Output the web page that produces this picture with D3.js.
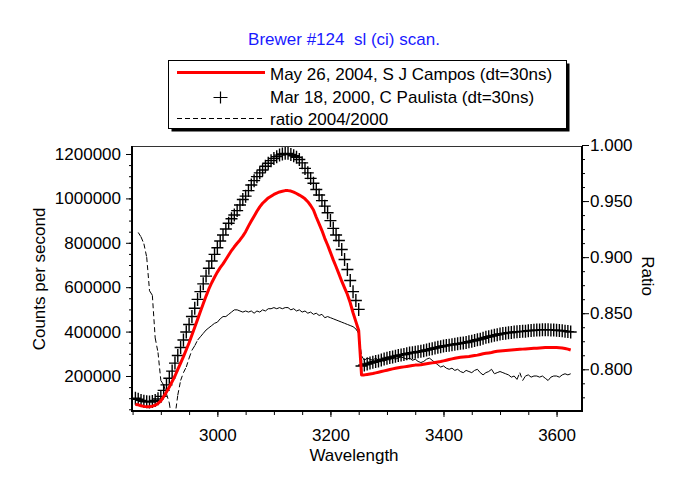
<!DOCTYPE html>
<html><head><meta charset="utf-8">
<script src="https://cdn.jsdelivr.net/npm/d3@7"></script>
<style>
body{margin:0;background:#fff}
svg{display:block}
text{font-family:"Liberation Sans",Arial,sans-serif;fill:#000}
</style>
</head><body>
<svg id="chart" width="676" height="480"></svg>
<script>
// ---- DATA ----
const wavelengths = d3.range(2855, 3626, 5);   // scan grid, 155 steps
// May 26, 2004, S J Campos — thousand counts per second
const counts2004k = [
  72, 70, 66, 63, 62, 62, 64, 68, 76, 88,
  107, 128, 150, 175, 200, 230, 258, 287, 318, 350,
  385, 420, 455, 490, 525, 560, 592, 620, 645, 668,
  688, 705, 725, 745, 765, 782, 798, 813, 830, 850,
  875, 898, 920, 942, 962, 978, 990, 1002, 1010, 1018,
  1024, 1029, 1032, 1035, 1035, 1033, 1028, 1022, 1015, 1007,
  998, 985, 968, 948, 915, 885, 855, 820, 790, 757,
  723, 692, 660, 627, 597, 567, 530, 485, 445, 405,
  205, 205, 207, 209, 211, 214, 217, 220, 223, 226,
  229, 232, 235, 237, 239, 241, 243, 245, 247, 249,
  250, 251, 253, 255, 257, 259, 261, 263, 265, 268,
  271, 274, 277, 280, 282, 284, 286, 287, 288, 290,
  292, 294, 297, 300, 302, 304, 306, 309, 311, 313,
  314, 315, 316, 317, 318, 319, 320, 321, 322, 323,
  324, 325, 325, 326, 327, 328, 328, 328, 328, 328,
  327, 326, 324, 321, 317
];
// Mar 18, 2000, C Paulista — thousand counts per second
const counts2000k = [
  100, 95, 90, 86, 84, 83, 85, 90, 97, 108,
  135, 160, 190, 222, 258, 292, 328, 362, 398, 432,
  468, 505, 545, 580, 615, 650, 685, 718, 748, 778,
  808, 835, 862, 888, 908, 925, 945, 970, 995, 1010,
  1035, 1060, 1080, 1098, 1115, 1128, 1145, 1158, 1170, 1180,
  1188, 1195, 1200, 1203, 1203, 1198, 1192, 1185, 1175, 1160,
  1135, 1115, 1090, 1068, 1040, 1015, 990, 965, 935, 900,
  865, 835, 810, 770, 725, 680, 630, 580, 540, 500,
  245, 250, 254, 258, 262, 265, 268, 272, 276, 280,
  283, 286, 289, 292, 295, 297, 300, 303, 305, 307,
  309, 311, 314, 317, 320, 323, 326, 329, 332, 335,
  337, 339, 341, 343, 345, 347, 349, 351, 354, 357,
  360, 363, 366, 370, 374, 377, 380, 383, 386, 389,
  391, 393, 395, 396, 398, 399, 400, 401, 402, 404,
  405, 406, 407, 407, 408, 408, 408, 407, 407, 406,
  405, 404, 402, 400, 398
];
// ratio 2004/2000 (right axis)
const ratio = [
  null, 0.922, 0.918, 0.912, 0.900, 0.870, 0.866, 0.828, 0.815, 0.790,
  0.786, 0.778, 0.770, 0.752, 0.758, 0.777, 0.790, 0.797, 0.802, 0.810,
  0.817, 0.821, 0.826, 0.829, 0.832, 0.835, 0.837, 0.839, 0.841, 0.842,
  0.845, 0.847, 0.847, 0.849, 0.851, 0.853, 0.853, 0.852, 0.851, 0.852,
  0.851, 0.852, 0.850, 0.852, 0.851, 0.853, 0.852, 0.854, 0.854, 0.855,
  0.854, 0.855, 0.854, 0.855, 0.855, 0.853, 0.854, 0.852, 0.853, 0.851,
  0.852, 0.850, 0.851, 0.849, 0.850, 0.848, 0.849, 0.846, 0.847, 0.846,
  0.845, 0.844, 0.843, 0.842, 0.841, 0.840, 0.839, 0.838, 0.836, 0.832,
  0.812, 0.808, 0.810, 0.809, 0.808, 0.810, 0.808, 0.809, 0.807, 0.809,
  0.808, 0.810, 0.809, 0.810, 0.811, 0.810, 0.809, 0.810, 0.808, 0.809,
  0.807, 0.806, 0.807, 0.809, 0.810, 0.808, 0.806, 0.804, 0.802, 0.803,
  0.801, 0.800, 0.801, 0.799, 0.800, 0.798, 0.797, 0.799, 0.798, 0.797,
  0.799, 0.800, 0.797, 0.795, 0.797, 0.798, 0.800, 0.796, 0.797, 0.798,
  0.797, 0.796, 0.795, 0.793, 0.794, 0.791, 0.797, 0.790, 0.794, 0.795,
  0.793, 0.794, 0.794, 0.793, 0.794, 0.792, 0.790, 0.793, 0.794, 0.794,
  0.793, 0.795, 0.796, 0.795, 0.796
];
const xTicks = [3000, 3200, 3400, 3600];
const xMinorTicks = d3.range(2850, 3601, 50);
const leftTicks = [200000, 400000, 600000, 800000, 1000000, 1200000];
const leftMinorTicks = d3.range(50000, 1200001, 50000);
const rightTicks = [0.800, 0.850, 0.900, 0.950, 1.000];
const rightMinorTicks = d3.range(0, 19).map(i => 0.775 + i * 0.0125);
const titleText = "Brewer #124  sl (ci) scan.";
const legendLabels = ["May 26, 2004, S J Campos (dt=30ns)", "Mar 18, 2000, C Paulista (dt=30ns)", "ratio 2004/2000"];
const xTitle = "Wavelength", yLeftTitle = "Counts per second", yRightTitle = "Ratio";

// ---- CHART ----
const svg = d3.select("#chart");
const P = {l: 132, r: 582, t: 146, b: 411};
const FS = "17px";
const x = d3.scaleLinear().domain([2849, 3645]).range([P.l, P.r]);
const yL = d3.scaleLinear().domain([42300, 1236000]).range([P.b, P.t]);
const yR = d3.scaleLinear().domain([0.7628, 1.0]).range([P.b, 145]);

const rows = wavelengths.map((w, i) => ({w, a: counts2004k[i] * 1000, b: counts2000k[i] * 1000, r: ratio[i]}));

svg.append("clipPath").attr("id", "clip").append("rect")
  .attr("x", P.l).attr("y", P.t).attr("width", P.r - P.l).attr("height", P.b - P.t);

const plot = svg.append("g").attr("clip-path", "url(#clip)");

// ratio: dashed, pattern restarting on each segment
const rr = rows.filter(d => d.r != null);
plot.append("g").selectAll("line").data(d3.pairs(rr)).join("line")
  .attr("x1", d => x(d[0].w)).attr("y1", d => yR(d[0].r))
  .attr("x2", d => x(d[1].w)).attr("y2", d => yR(d[1].r))
  .attr("stroke", "#000").attr("stroke-width", 1).attr("stroke-dasharray", "5,3");

// crosses (2000)
plot.append("path")
  .attr("d", rows.map(d => {
    const cx = x(d.w), cy = yL(d.b);
    return `M${cx - 6},${cy}H${cx + 6}M${cx},${cy - 6.5}V${cy + 6.5}`;
  }).join(""))
  .attr("stroke", "#000").attr("stroke-width", 1.4).attr("fill", "none");

// red line (2004)
plot.append("path").datum(rows)
  .attr("d", d3.line().x(d => x(d.w)).y(d => yL(d.a)))
  .attr("fill", "none").attr("stroke", "#ff0000").attr("stroke-width", 3).attr("stroke-linejoin", "round");

// axes
function styleAxis(g) {
  g.select(".domain").remove();
  g.selectAll("line").attr("stroke", "#000");
  g.selectAll("text").style("font-size", FS).attr("fill", "#000");
}
svg.append("g").attr("transform", `translate(0,${P.b})`)
  .call(d3.axisBottom(x).tickValues(xMinorTicks).tickSize(4).tickFormat("")).call(styleAxis);
svg.append("g").attr("transform", `translate(0,${P.b})`)
  .call(d3.axisBottom(x).tickValues(xTicks).tickSize(6).tickPadding(12).tickFormat(d3.format("d"))).call(styleAxis);
svg.append("g").attr("transform", `translate(${P.l},0)`)
  .call(d3.axisLeft(yL).tickValues(leftMinorTicks).tickSize(3).tickFormat("")).call(styleAxis);
svg.append("g").attr("transform", `translate(${P.l},0)`)
  .call(d3.axisLeft(yL).tickValues(leftTicks).tickSize(6).tickPadding(5).tickFormat(d3.format("d"))).call(styleAxis);
svg.append("g").attr("transform", `translate(${P.r},0)`)
  .call(d3.axisRight(yR).tickValues(rightMinorTicks).tickSize(3).tickFormat("")).call(styleAxis);
svg.append("g").attr("transform", `translate(${P.r},0)`)
  .call(d3.axisRight(yR).tickValues(rightTicks).tickSize(7).tickPadding(1).tickFormat(d3.format(".3f"))).call(styleAxis);

// frame
svg.append("line").attr("x1", P.l).attr("x2", P.r).attr("y1", P.t + 0.5).attr("y2", P.t + 0.5).attr("stroke", "#333").attr("stroke-width", 1);
svg.append("line").attr("x1", P.l).attr("x2", P.l).attr("y1", P.t).attr("y2", P.b + 1).attr("stroke", "#000").attr("stroke-width", 2);
svg.append("line").attr("x1", P.r).attr("x2", P.r).attr("y1", P.t).attr("y2", P.b + 1).attr("stroke", "#000").attr("stroke-width", 2);
svg.append("line").attr("x1", P.l - 1).attr("x2", P.r + 1).attr("y1", P.b).attr("y2", P.b).attr("stroke", "#000").attr("stroke-width", 2);

// titles
svg.append("text").attr("x", 344).attr("y", 45).attr("text-anchor", "middle")
  .style("font-size", FS).style("fill", "#1a1aff").style("white-space", "pre").text(titleText);
svg.append("text").attr("x", 354).attr("y", 461).attr("text-anchor", "middle").style("font-size", FS).text(xTitle);
svg.append("text").attr("transform", "translate(45,279) rotate(-90)").attr("text-anchor", "middle").style("font-size", FS).text(yLeftTitle);
svg.append("text").attr("transform", "translate(642,276) rotate(90)").attr("text-anchor", "middle").style("font-size", FS).text(yRightTitle);

// legend
const lg = svg.append("g");
lg.append("rect").attr("x", 171.5).attr("y", 63.5).attr("width", 398).attr("height", 68).attr("fill", "#000");
lg.append("rect").attr("x", 168.5).attr("y", 60.5).attr("width", 398).attr("height", 68).attr("fill", "#fff").attr("stroke", "#000").attr("stroke-width", 1);
lg.append("line").attr("x1", 177).attr("x2", 265).attr("y1", 72.5).attr("y2", 72.5).attr("stroke", "#ff0000").attr("stroke-width", 3);
lg.append("path").attr("d", "M213.5,97.5H227.5M220.5,91.5V103.5").attr("stroke", "#000").attr("stroke-width", 1.2);
lg.append("line").attr("x1", 177).attr("x2", 262).attr("y1", 118.5).attr("y2", 118.5).attr("stroke", "#000").attr("stroke-width", 1).attr("stroke-dasharray", "5,3");
lg.selectAll("text.lab").data(legendLabels).join("text").attr("class", "lab")
  .attr("x", 270).attr("y", (d, i) => [79.5, 102.5, 125][i]).style("font-size", FS).text(d => d);
</script>
</body></html>
